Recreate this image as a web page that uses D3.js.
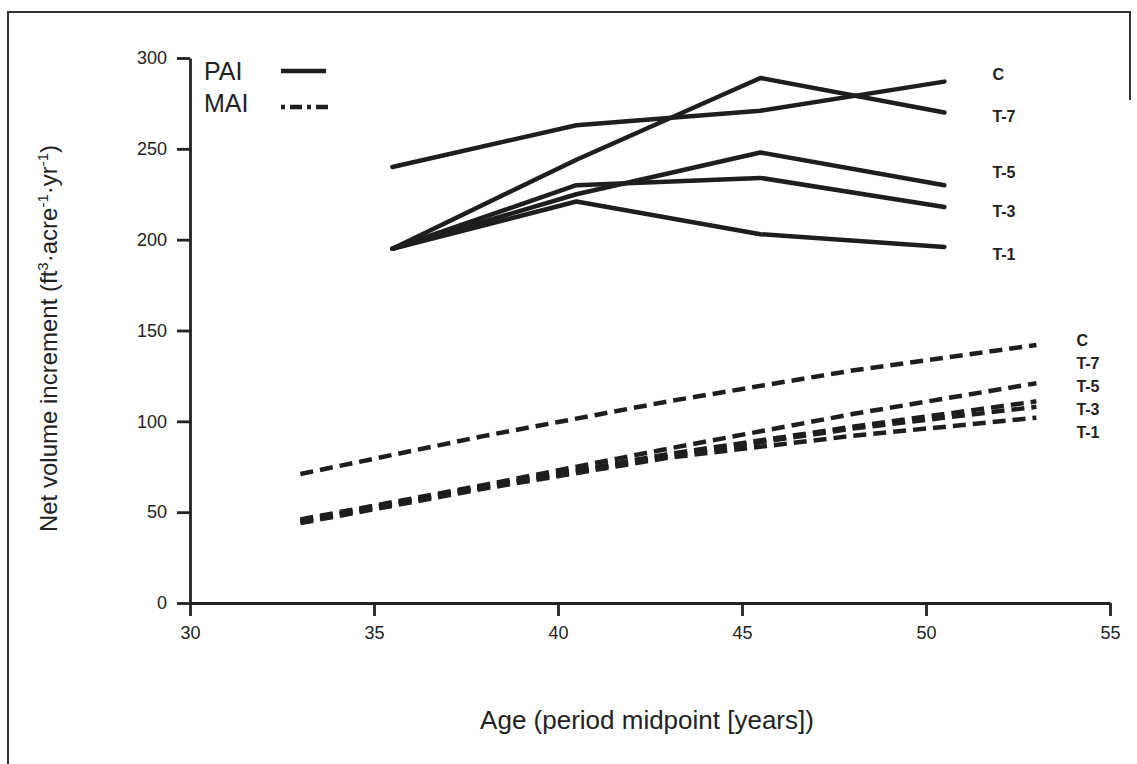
<!DOCTYPE html>
<html>
<head>
<meta charset="utf-8">
<script src="https://cdn.jsdelivr.net/npm/d3@7"></script>
<style>
    body { margin: 0; background: #fff; }
    text { font-family: "Liberation Sans", Arial, sans-serif; fill: #222; }
</style>
</head>
<body>
<div id="chart"></div>
<script>
// periods (midpoints) for PAI, period ends for MAI
const paiAges = [35.5, 40.5, 45.5, 50.5];
const maiAges = [33, 38, 43, 48, 53];
const seriesNames = ["C", "T-7", "T-5", "T-3", "T-1"];

const paiC  = [240, 263, 271, 287];
const paiT7 = [195, 244, 289, 270];
const paiT5 = [195, 225, 248, 230];
const paiT3 = [195, 230, 234, 218];
const paiT1 = [195, 221, 203, 196];

const maiC  = [71, 92, 111, 128, 142];
const maiT7 = [46, 65, 85, 104, 121];
const maiT5 = [45, 64, 82, 97, 111];
const maiT3 = [45, 64, 81, 96, 108];
const maiT1 = [44, 63, 80, 92, 102];

const xTicks = [30, 35, 40, 45, 50, 55];
const yTicks = [0, 50, 100, 150, 200, 250, 300];

function renderChart(containerId) {
    const W = 1137, H = 764;
    const svg = d3.select(`#${containerId}`)
        .append("svg")
        .attr("width", W)
        .attr("height", H);

    // scanned frame
    svg.append("path")
        .attr("d", "M8,764 L8,12 L1130,12 L1130,100")
        .attr("fill", "none")
        .attr("stroke", "#333")
        .attr("stroke-width", 2);

    const x = d3.scaleLinear().domain([30, 55]).range([190, 1110]);
    const y = d3.scaleLinear().domain([0, 300]).range([603, 58]);

    const xAxis = svg.append("g")
        .attr("transform", `translate(0,${y(0)})`)
        .call(d3.axisBottom(x).tickValues(xTicks).tickSize(13).tickSizeOuter(0).tickPadding(10));
    const yAxis = svg.append("g")
        .attr("transform", `translate(${x(30)},0)`)
        .call(d3.axisLeft(y).tickValues(yTicks).tickSize(13).tickSizeOuter(0).tickPadding(10));

    [xAxis, yAxis].forEach(a => {
        a.selectAll("path, line").attr("stroke", "#222").attr("stroke-width", 2.8);
        a.selectAll("text")
            .style("font-size", "18px")
            .attr("fill", "#222");
    });

    const line = d3.line().x(d => x(d[0])).y(d => y(d[1]));

    const pai = [paiC, paiT7, paiT5, paiT3, paiT1];
    const mai = [maiC, maiT7, maiT5, maiT3, maiT1];

    pai.forEach(vals => {
        svg.append("path")
            .datum(paiAges.map((a, i) => [a, vals[i]]))
            .attr("d", line)
            .attr("fill", "none")
            .attr("stroke", "#1e1e1e")
            .attr("stroke-width", 4.5)
            .attr("stroke-linejoin", "round")
            .attr("stroke-linecap", "round");
    });

    mai.forEach(vals => {
        svg.append("path")
            .datum(maiAges.map((a, i) => [a, vals[i]]))
            .attr("d", line)
            .attr("fill", "none")
            .attr("stroke", "#1e1e1e")
            .attr("stroke-width", 4.5)
            .attr("stroke-dasharray", "13,7");
    });

    // end labels for PAI, nudged a bit like the original
    const paiNudge = [-7, 4, -13, 4, 7];
    pai.forEach((vals, i) => {
        svg.append("text")
            .attr("x", x(paiAges[paiAges.length - 1]) + 48)
            .attr("y", y(vals[vals.length - 1]) + paiNudge[i])
            .attr("dy", "0.35em")
            .style("font-size", "16px")
            .style("font-weight", "bold")
            .text(seriesNames[i]);
    });

    // end labels for MAI, stacked evenly
    const maiTop = y(maiC[maiC.length - 1]) - 5;
    mai.forEach((vals, i) => {
        svg.append("text")
            .attr("x", x(maiAges[maiAges.length - 1]) + 40)
            .attr("y", maiTop + i * 23)
            .attr("dy", "0.35em")
            .style("font-size", "16px")
            .style("font-weight", "bold")
            .text(seriesNames[i]);
    });

    // legend
    const legend = svg.append("g");
    legend.append("text").attr("x", 204).attr("y", 80).style("font-size", "25px").text("PAI");
    legend.append("text").attr("x", 204).attr("y", 112).style("font-size", "25px").text("MAI");
    legend.append("line")
        .attr("x1", 281).attr("x2", 326).attr("y1", 71).attr("y2", 71)
        .attr("stroke", "#1e1e1e").attr("stroke-width", 4.5);
    legend.append("line")
        .attr("x1", 281).attr("x2", 328).attr("y1", 107).attr("y2", 107)
        .attr("stroke", "#1e1e1e").attr("stroke-width", 4.5)
        .attr("stroke-dasharray", "4,5,12,5");

    // axis titles
    svg.append("text")
        .attr("x", 647)
        .attr("y", 729)
        .attr("text-anchor", "middle")
        .style("font-size", "26px")
        .text("Age (period midpoint [years])");

    const yt = svg.append("text")
        .attr("transform", `translate(57,${y(150) + 8}) rotate(-90)`)
        .attr("text-anchor", "middle")
        .style("font-size", "24px");
    yt.append("tspan").text("Net volume increment (ft");
    yt.append("tspan").attr("dy", -9).style("font-size", "15px").text("3");
    yt.append("tspan").attr("dy", 9).text("·acre");
    yt.append("tspan").attr("dy", -9).style("font-size", "15px").text("-1");
    yt.append("tspan").attr("dy", 9).text("·yr");
    yt.append("tspan").attr("dy", -9).style("font-size", "15px").text("-1");
    yt.append("tspan").attr("dy", 9).text(")");
}

renderChart("chart");
</script>
</body>
</html>
